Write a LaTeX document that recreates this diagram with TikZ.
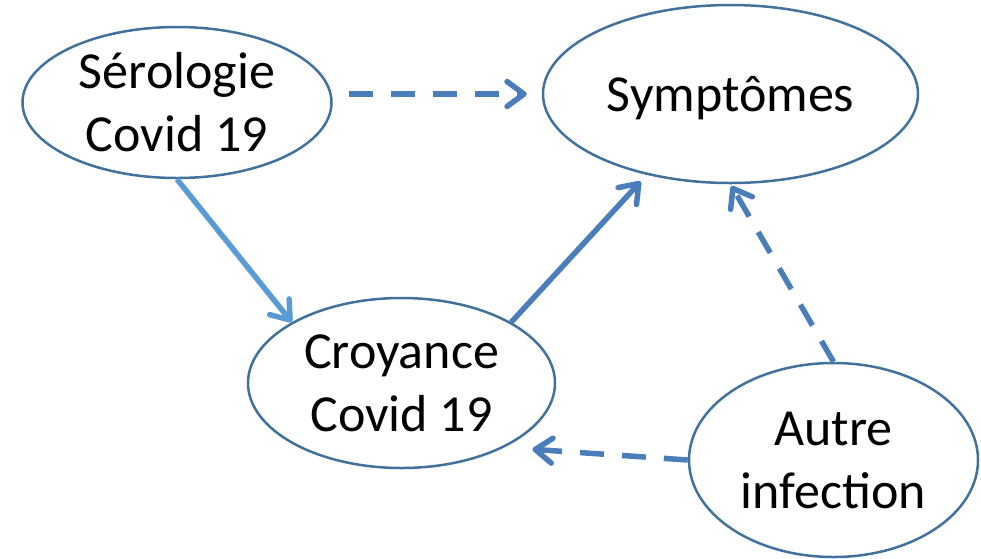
\documentclass[tikz,border=0pt]{standalone}
\usepackage{fontspec}
\setmainfont{Carlito}
\usetikzlibrary{shapes.geometric}
\usetikzlibrary{arrows.meta}
\definecolor{bord}{HTML}{41719C}
\definecolor{fleche}{HTML}{4A7EBB}
\definecolor{clair}{HTML}{5B9BD5}
\tikzset{bulle/.style={ellipse, draw=bord, line width=2.5pt, inner sep=0pt, align=center, font=\fontsize{52}{63}\selectfont}}
\tikzset{lien/.style={draw=fleche, line width=5.5pt, -{Straight Barb[length=17pt,width=25pt,round]}}}
\tikzset{pointille/.style={lien, dash pattern=on 24pt off 18pt}}

\begin{document}
\begin{tikzpicture}[x=1pt,y=-1pt]
                \useasboundingbox (0,0) rectangle (981,558);
                \node[bulle, minimum width=309pt, minimum height=151pt] (sero) at (177,102.5) {Sérologie\\Covid 19};
                \node[bulle, minimum width=375pt, minimum height=178pt, text depth=0pt] (symp) at (730.5,94) {Symptômes};
                \node[bulle, minimum width=307pt, minimum height=170pt] (croy) at (401.5,383) {Croyance\\Covid 19};
                \node[bulle, minimum width=289pt, minimum height=194pt] (autre) at (833.5,460) {Autre\\infection};
                \draw[pointille, shorten <=16pt, shorten >=15pt] (sero.east |- symp.west) -- (symp.west);
                \draw[lien, draw=clair] (sero.south) -- (croy.151);
                \draw[lien, shorten >=9pt] (croy.29) -- (symp.224);
                \draw[pointille, shorten >=2pt] (autre.north) -- (symp.south);
                \draw[pointille, shorten >=28pt] (autre.west) -- (croy.-32);
            \end{tikzpicture}
\end{document}
